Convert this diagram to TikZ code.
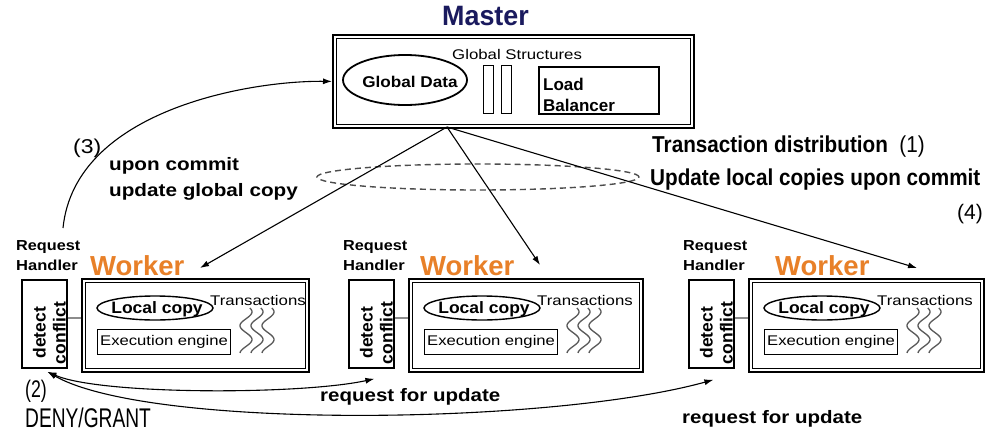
\documentclass[tikz,border=0pt]{standalone}
\usepackage{fontspec}
\setmainfont{Liberation Sans}
\usepackage{graphicx}
\usetikzlibrary{arrows.meta,shapes.geometric,calc}
\definecolor{navy}{RGB}{26,26,94}
\definecolor{orng}{RGB}{232,128,40}
\newcommand\sx[2]{\scalebox{#1}[1]{#2}}
\tikzset{
  btxt/.style={inner sep=0pt, font=\fontsize{#1}{#1}\selectfont\bfseries},
  rtxt/.style={inner sep=0pt, font=\fontsize{#1}{#1}\selectfont},
  dblbox/.style={draw, line width=1.8pt, rectangle, inner sep=0pt},
  arr/.style={-{Latex[length=9pt,width=6pt]}, line width=1.1pt},
  barr/.style={{Latex[length=9pt,width=6pt]}-{Latex[length=9pt,width=6pt]}, line width=1.1pt},
  wave/.style={line width=1.3pt, draw=black!65},
  conn/.style={line width=1.4pt, draw=black!45},
}
\begin{document}
\begin{tikzpicture}[x=1pt,y=-1pt]
\useasboundingbox (0,0) rectangle (986,434);
\fill[white] (0,0) rectangle (986,434);

% Master
\node[btxt=28, text=navy, anchor=base west] (mtitle) at (442,25) {\sx{0.96}{Master}};
\node[dblbox, minimum width=361pt, minimum height=93pt, anchor=north west] (master) at (332,34) {};
\draw[line width=1.5pt] ([shift={(4.5,4.5)}]master.north west) rectangle ([shift={(-4.5,-4.5)}]master.south east);
\node[rtxt=14, anchor=base west] (gs) at (452,59) {\sx{1.2}{Global Structures}};
\node[ellipse, draw, line width=1.8pt, minimum width=124pt, minimum height=50pt, inner sep=0pt] (gd) at (405,80) {};
\node[btxt=15.6] (gdt) at (410,81.5) {\sx{1.1}{Global Data}};
\node[draw, line width=1.3pt, minimum width=10pt, minimum height=48pt, anchor=north west, inner sep=0pt] (bar1) at (483,65) {};
\node[draw, line width=1.3pt, minimum width=10pt, minimum height=48pt, anchor=north west, inner sep=0pt] (bar2) at (501,65) {};
\node[draw, line width=1.8pt, minimum width=120pt, minimum height=47pt, anchor=north west, inner sep=0pt] (lb) at (538,66) {};
\node[btxt=17, anchor=base west] (lbt1) at (543,90) {Load};
\node[btxt=17, anchor=base west] (lbt2) at (543,111) {Balancer};

% labels top
\node[rtxt=20, anchor=base west] (n3) at (73,153) {\sx{1.15}{(3)}};
\node[btxt=18, anchor=base west] (uc1) at (109,170) {\sx{1.15}{upon commit}};
\node[btxt=18, anchor=base west] (uc2) at (109,196) {\sx{1.15}{update global copy}};
\node[btxt=23, anchor=base west] (td) at (652,152) {\sx{0.9}{Transaction distribution\ \ \mdseries(1)}};
\node[btxt=23, anchor=base west] (ul) at (650,185) {\sx{0.9}{Update local copies upon commit}};
\node[rtxt=21, anchor=base west] (n4) at (957,219) {(4)};
\draw[line width=1.4pt, draw=black!70, dash pattern=on 6pt off 4pt] (478,177) ellipse [x radius=161pt, y radius=13pt];

% Workers
\foreach \i/\L/\R/\wx in {1/81/308/90,2/408/642/420,3/748/983/775}{
  \pgfmathsetmacro\W{\R-\L}
  \node[dblbox, minimum width=\W pt, minimum height=93pt, anchor=north west] (w\i) at (\L,278) {};
  \draw[line width=1.4pt] ([shift={(4.5,4.5)}]w\i.north west) rectangle ([shift={(-4.5,-4.5)}]w\i.south east);
  \node[btxt=27.5, text=orng, anchor=base west] (wt\i) at (\wx,275) {Worker};
  \node[draw, line width=1.8pt, minimum width=45pt, minimum height=88pt, anchor=north west, inner sep=0pt] (h\i) at (\L-60,279) {};
  \node[inner sep=0pt, font=\fontsize{17.5pt}{20pt}\selectfont\bfseries, rotate=90, align=center] (dc\i) at ([shift={(5,9)}]h\i.center) {detect\\conflict};
  \node[btxt=14.5, anchor=base west] (rq\i) at (\L-65,250.5) {\sx{1.12}{Request}};
  \node[btxt=14.5, anchor=base west] (hd\i) at (\L-65,270) {\sx{1.14}{Handler}};
  \draw[conn] ([yshift=6pt]h\i.east) -- ([yshift=6pt]h\i.east -| w\i.west);
  \node[ellipse, draw, line width=1.4pt, minimum width=116pt, minimum height=24pt, inner sep=0pt] (lc\i) at (\L+74,308) {};
  \node[btxt=16.5] (lct\i) at (\L+76,309.5) {\sx{1.06}{Local copy}};
  \node[rtxt=14, anchor=base] (tr\i) at (\L+177,305) {\sx{1.2}{Transactions}};
  \node[draw, line width=1.2pt, minimum width=133pt, minimum height=25pt, anchor=north west, inner sep=0pt] (ex\i) at (\L+16,329) {};
  \node[rtxt=14] (ext\i) at (ex\i.center) {\sx{1.19}{Execution engine}};
  \foreach \k in {0,1,2}
    \draw[wave] plot[domain=0:45, samples=46, smooth] ({\L+165+11*\k+6*sin(\x*13+40)}, {308+\x});
}

% master arrows
\coordinate (mo) at (447,127);
\coordinate (t1) at (200,268);
\coordinate (t2) at (540,265);
\coordinate (t3) at (917,268);
\draw[arr] (mo) -- (t1);
\draw[arr] (mo) -- (t2);
\draw[arr] (mo) -- (t3);

% (3) arc
\coordinate (c3) at (63,228);
\draw[arr] (c3) .. controls (75,110) and (250,80.5) .. (master.west);

% bottom arrows
\coordinate (b1) at ([shift={(3,3)}]h1.south);
\coordinate (b2) at ([shift={(3,10)}]h2.south);
\coordinate (b3) at ([shift={(2,11)}]h3.south);
\draw[barr] (b1) .. controls (100,395) and (300,395) .. (b2);
\draw[barr] (b1) .. controls (150,430) and (550,425) .. (b3);

\node[rtxt=24, anchor=base west] (n2) at (25,397) {\sx{0.74}{(2)}};
\node[rtxt=27, anchor=base west] (dg) at (25,427) {\sx{0.71}{DENY/GRANT}};
\node[btxt=18, anchor=base west] (ru1) at (320,401) {\sx{1.14}{request for update}};
\node[btxt=18, anchor=base west] (ru2) at (682,423) {\sx{1.14}{request for update}};
\end{tikzpicture}
\end{document}
